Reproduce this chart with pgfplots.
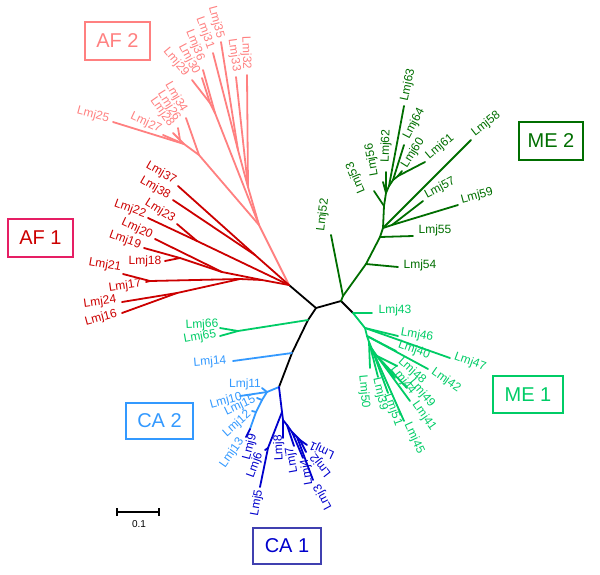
\documentclass[border=0pt]{standalone}
\usepackage{pgfplots}
\pgfplotsset{compat=1.18}
\usepackage{fontspec}
\setmainfont{Liberation Sans}
\definecolor{af2}{RGB}{255,128,128}
\definecolor{af1}{RGB}{204,0,0}
\definecolor{af1box}{RGB}{230,30,100}
\definecolor{me2}{RGB}{0,110,0}
\definecolor{me1}{RGB}{0,204,102}
\definecolor{ca2}{RGB}{51,153,255}
\definecolor{ca1}{RGB}{0,0,204}
\definecolor{ca1box}{RGB}{64,64,176}
\tikzset{lab/.style={font=\fontsize{12}{14}\selectfont, inner sep=0pt},
  br/.style={line width=1.8pt, line cap=round, line join=round}}
\newcommand{\B}[3]{\addplot[br,#1,forget plot] coordinates {#2 #3};}
\newcommand{\LB}[5]{\node[lab,rotate=#1,text=#2] at (axis cs:#3,#4) {#5};}
\newcommand{\BX}[7]{\node[draw=#1,text=#2,line width=1.3pt,minimum width=#5pt,minimum height=#6pt,inner sep=0pt,font=\fontsize{20}{24}\selectfont] at (axis cs:#3,#4) {#7};}
\begin{document}
\begin{tikzpicture}
\begin{axis}[
  width=600pt, height=574pt, scale only axis,
  xmin=0, xmax=600, ymin=0, ymax=574, y dir=reverse,
  hide axis, clip=false,
]
\path (axis cs:0,0) rectangle (axis cs:600,574);
% backbone
\B{black}{(289,285)}{(316,308)}
\B{black}{(316,308)}{(341,301)}
\B{black}{(341,301)}{(353,313)}
\B{black}{(316,308)}{(308,320)}
\B{black}{(308,320)}{(292,353)}
\B{black}{(292,353)}{(279,387)}
% AF2
\B{af2}{(289,285)}{(259,225)}
\B{af2}{(259,225)}{(248,187)}
\B{af2}{(248,187)}{(247,75)}
\B{af2}{(248,187)}{(236,77)}
\B{af2}{(248,187)}{(238,150)}
\B{af2}{(238,150)}{(221,42)}
\B{af2}{(238,150)}{(213,53)}
\B{af2}{(259,225)}{(215,113)}
\B{af2}{(215,113)}{(203,70)}
\B{af2}{(215,113)}{(210,103)}
\B{af2}{(210,103)}{(202,78)}
\B{af2}{(210,103)}{(192,80)}
\B{af2}{(259,225)}{(199,155)}
\B{af2}{(199,155)}{(186,118)}
\B{af2}{(199,155)}{(184,144)}
\B{af2}{(184,144)}{(113,122)}
\B{af2}{(184,144)}{(163,135)}
\B{af2}{(184,144)}{(180,140)}
\B{af2}{(180,140)}{(173,133)}
\B{af2}{(180,140)}{(178,128)}
% AF1
\B{af1}{(289,285)}{(255,255)}
\B{af1}{(255,255)}{(178,186)}
\B{af1}{(255,255)}{(173,200)}
\B{af1}{(289,285)}{(197,241)}
\B{af1}{(197,241)}{(148,218)}
\B{af1}{(197,241)}{(177,224)}
\B{af1}{(289,285)}{(262,280)}
\B{af1}{(262,280)}{(222,272)}
\B{af1}{(222,272)}{(155,239)}
\B{af1}{(222,272)}{(180,258)}
\B{af1}{(180,258)}{(144,248)}
\B{af1}{(180,258)}{(165,261)}
\B{af1}{(262,280)}{(240,279)}
\B{af1}{(240,279)}{(150,281)}
\B{af1}{(150,281)}{(123,274)}
\B{af1}{(150,281)}{(146,282)}
\B{af1}{(240,279)}{(177,293)}
\B{af1}{(177,293)}{(122,302)}
\B{af1}{(177,293)}{(122,313)}
% ME2
\B{me2}{(341,301)}{(343,296)}
\B{me2}{(343,296)}{(331,235)}
\B{me2}{(343,296)}{(366,264)}
\B{me2}{(366,264)}{(398,267)}
\B{me2}{(366,264)}{(380,237)}
\B{me2}{(380,237)}{(413,236)}
\B{me2}{(380,237)}{(383,228)}
\B{me2}{(383,228)}{(392,225)}
\B{me2}{(392,225)}{(458,205)}
\B{me2}{(392,225)}{(423,201)}
\B{me2}{(383,228)}{(471,140)}
\B{me2}{(383,228)}{(384,206)}
\B{me2}{(384,206)}{(374,191)}
\B{me2}{(384,206)}{(386,193)}
\B{me2}{(386,193)}{(386,172)}
\B{me2}{(386,193)}{(383,182)}
\B{me2}{(386,193)}{(389,186)}
\B{me2}{(389,186)}{(404,106)}
\B{me2}{(389,186)}{(393,180)}
\B{me2}{(393,180)}{(404,145)}
\B{me2}{(393,180)}{(398,176)}
\B{me2}{(398,176)}{(425,162)}
\B{me2}{(398,176)}{(402,171)}
% ME1
\B{me1}{(353,313)}{(372,313)}
\B{me1}{(353,313)}{(365,328)}
\B{me1}{(365,328)}{(398,336)}
\B{me1}{(365,328)}{(450,358)}
\B{me1}{(365,328)}{(367,336)}
\B{me1}{(367,336)}{(396,351)}
\B{me1}{(367,336)}{(428,369)}
\B{me1}{(367,336)}{(369,342)}
\B{me1}{(369,342)}{(370,368)}
\B{me1}{(369,342)}{(378,377)}
\B{me1}{(369,342)}{(372,349)}
\B{me1}{(372,349)}{(388,393)}
\B{me1}{(372,349)}{(404,421)}
\B{me1}{(372,349)}{(377,356)}
\B{me1}{(377,356)}{(397,366)}
\B{me1}{(377,356)}{(395,378)}
\B{me1}{(377,356)}{(407,388)}
\B{me1}{(377,356)}{(410,401)}
\B{me1}{(308,320)}{(238,331)}
\B{me1}{(238,331)}{(220,328)}
\B{me1}{(238,331)}{(220,336)}
% CA2
\B{ca2}{(292,353)}{(233,361)}
\B{ca2}{(279,387)}{(267,392)}
\B{ca2}{(267,392)}{(262,388)}
\B{ca2}{(267,392)}{(240,396)}
\B{ca2}{(267,392)}{(262,400)}
\B{ca2}{(262,400)}{(257,398)}
\B{ca2}{(262,400)}{(256,412)}
\B{ca2}{(256,412)}{(252,411)}
\B{ca2}{(256,412)}{(250,429)}
\B{ca1}{(250,429)}{(246,437)}
% CA1
\B{ca1}{(279,387)}{(282,412)}
\B{ca1}{(282,412)}{(268,448)}
\B{ca1}{(268,448)}{(265,450)}
\B{ca1}{(268,448)}{(260,487)}
\B{ca1}{(282,412)}{(283,420)}
\B{ca1}{(283,420)}{(283,438)}
\B{ca1}{(283,420)}{(287,425)}
\B{ca1}{(287,425)}{(294,446)}
\B{ca1}{(287,425)}{(292,432)}
\B{ca1}{(292,432)}{(303,458)}
\B{ca1}{(292,432)}{(297,437)}
\B{ca1}{(297,437)}{(313,480)}
\B{ca1}{(297,437)}{(300,440)}
\B{ca1}{(300,440)}{(306,452)}
\B{ca1}{(300,440)}{(307,445)}
% scale bar
\addplot[black, line width=1.4pt, forget plot] coordinates {(117,512) (159,512)};
\addplot[black, line width=1.4pt, forget plot] coordinates {(117,508) (117,516)};
\addplot[black, line width=1.4pt, forget plot] coordinates {(159,508) (159,516)};
\node[font=\fontsize{10}{12}\selectfont, inner sep=0pt] at (axis cs:139,524) {0.1};
% AF2 labels
\LB{-88}{af2}{246}{53}{Lmj32}
\LB{-82}{af2}{234}{55}{Lmj33}
\LB{-75}{af2}{216}{22}{Lmj35}
\LB{-70}{af2}{205}{33}{Lmj31}
\LB{-68}{af2}{195}{45}{Lmj36}
\LB{-62}{af2}{189}{59}{Lmj30}
\LB{-50}{af2}{176}{62}{Lmj29}
\LB{-60}{af2}{176}{97}{Lmj34}
\LB{-58}{af2}{169}{106}{Lmj26}
\LB{-55}{af2}{162}{112}{Lmj28}
\LB{-25}{af2}{146}{123}{Lmj27}
\LB{-15}{af2}{93}{115}{Lmj25}
% AF1 labels
\LB{-30}{af1}{161}{173}{Lmj37}
\LB{-30}{af1}{155}{188}{Lmj38}
\LB{-20}{af1}{130}{209}{Lmj22}
\LB{-32}{af1}{160}{211}{Lmj23}
\LB{-25}{af1}{137}{229}{Lmj20}
\LB{-20}{af1}{125}{240}{Lmj19}
\LB{0}{af1}{145}{261}{Lmj18}
\LB{-10}{af1}{105}{265}{Lmj21}
\LB{8}{af1}{125}{286}{Lmj17}
\LB{8}{af1}{100}{302}{Lmj24}
\LB{15}{af1}{101}{318}{Lmj16}
% ME2 labels
\LB{78}{me2}{408}{85}{Lmj63}
\LB{62}{me2}{414}{124}{Lmj64}
\LB{58}{me2}{413}{153}{Lmj60}
\LB{40}{me2}{440}{147}{Lmj61}
\LB{38}{me2}{486}{124}{Lmj58}
\LB{28}{me2}{440}{188}{Lmj57}
\LB{15}{me2}{477}{196}{Lmj59}
\LB{0}{me2}{435}{230}{Lmj55}
\LB{0}{me2}{420}{265}{Lmj54}
\LB{83}{me2}{323}{215}{Lmj52}
\LB{113}{me2}{356}{178}{Lmj53}
\LB{100}{me2}{372}{160}{Lmj56}
\LB{88}{me2}{386}{146}{Lmj62}
% ME1 labels
\LB{0}{me1}{395}{310}{Lmj43}
\LB{-10}{me1}{417}{335}{Lmj46}
\LB{-20}{me1}{470}{362}{Lmj47}
\LB{-20}{me1}{414}{350}{Lmj40}
\LB{-35}{me1}{446}{380}{Lmj42}
\LB{-42}{me1}{412}{371}{Lmj48}
\LB{-52}{me1}{403}{380}{Lmj44}
\LB{-50}{me1}{422}{393}{Lmj49}
\LB{-55}{me1}{424}{416}{Lmj41}
\LB{-65}{me1}{414}{438}{Lmj45}
\LB{-70}{me1}{393}{410}{Lmj51}
\LB{-77}{me1}{380}{394}{Lmj39}
\LB{-85}{me1}{364}{392}{Lmj50}
\LB{3}{me1}{202}{325}{Lmj66}
\LB{10}{me1}{200}{337}{Lmj65}
% CA2 labels
\LB{5}{ca2}{210}{362}{Lmj14}
\LB{0}{ca2}{245}{384}{Lmj11}
\LB{15}{ca2}{226}{401}{Lmj10}
\LB{25}{ca2}{240}{406}{Lmj15}
\LB{42}{ca2}{237}{424}{Lmj12}
\LB{55}{ca2}{232}{453}{Lmj13}
% CA1 labels
\LB{75}{ca1}{250}{447}{Lmj9}
\LB{70}{ca1}{255}{465}{Lmj6}
\LB{80}{ca1}{257}{503}{Lmj5}
\LB{92}{ca1}{279}{448}{Lmj8}
\LB{100}{ca1}{292}{460}{Lmj7}
\LB{100}{ca1}{307}{472}{Lmj4}
\LB{118}{ca1}{323}{497}{Lmj3}
\LB{128}{ca1}{321}{465}{Lmj2}
\LB{155}{ca1}{322}{450}{Lmj1}
% group boxes
\BX{af2}{af2}{117.5}{41}{65}{38}{AF 2}
\BX{af1box}{af1}{40.5}{238}{65}{38}{AF 1}
\BX{me2}{me2}{551}{141}{64}{38}{ME 2}
\BX{me1}{me1}{528}{394.5}{70}{37}{ME 1}
\BX{ca2}{ca2}{159.5}{421}{67}{36}{CA 2}
\BX{ca1box}{ca1}{287}{546}{68}{36}{CA 1}
\end{axis}
\end{tikzpicture}
\end{document}
